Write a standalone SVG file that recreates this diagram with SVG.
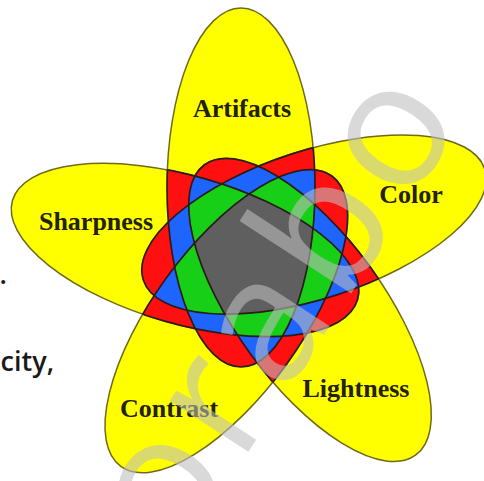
<svg xmlns="http://www.w3.org/2000/svg" xmlns:xlink="http://www.w3.org/1999/xlink" width="484" height="481" viewBox="0 0 484 481">
<style>
.petal{fill:#ffff00;stroke:#6f6a1c;stroke-width:1.5}
.r{fill:#ff1010}
.b{fill:#1e64ff}
.g{fill:#16cf16}
.k{fill:#5f5f5f}
.inner{fill:none;stroke:#2a1c18;stroke-width:1.7}
.lbl{font-family:"Liberation Serif","Times New Roman",serif;font-weight:bold;font-size:26px;fill:#222200;text-anchor:middle}
.side{font-family:"Open Sans","Noto Sans",sans-serif;font-weight:600;font-size:27px;fill:#1a1a1a;text-anchor:end}
.wm{font-family:"Open Sans","Noto Sans",sans-serif;font-size:175px;fill:#bebebe;opacity:0.58;letter-spacing:10px}
</style>
<defs>
<ellipse id="eA" rx="179.5" ry="74" transform="translate(241 187.5) rotate(-90)"/>
<ellipse id="eC" rx="179.5" ry="74" transform="translate(314 224.5) rotate(-18)"/>
<ellipse id="eL" rx="179.5" ry="74" transform="translate(310 310) rotate(54)"/>
<ellipse id="eN" rx="179.5" ry="74" transform="translate(226.3 321.2) rotate(126)"/>
<ellipse id="eS" rx="179.5" ry="74" transform="translate(185 250) rotate(196)"/>
<clipPath id="cA"><use href="#eA"/></clipPath>
<clipPath id="cC"><use href="#eC"/></clipPath>
<clipPath id="cL"><use href="#eL"/></clipPath>
<clipPath id="cN"><use href="#eN"/></clipPath>
<clipPath id="cS"><use href="#eS"/></clipPath>
<clipPath id="oA"><use href="#eC"/><use href="#eL"/><use href="#eN"/><use href="#eS"/></clipPath>
<clipPath id="oC"><use href="#eA"/><use href="#eL"/><use href="#eN"/><use href="#eS"/></clipPath>
<clipPath id="oL"><use href="#eA"/><use href="#eC"/><use href="#eN"/><use href="#eS"/></clipPath>
<clipPath id="oN"><use href="#eA"/><use href="#eC"/><use href="#eL"/><use href="#eS"/></clipPath>
<clipPath id="oS"><use href="#eA"/><use href="#eC"/><use href="#eL"/><use href="#eN"/></clipPath>
</defs>
<rect width="484" height="481" fill="#ffffff"/>
<g id="petals">
<g id="artifacts"><use href="#eA" class="petal"/></g>
<g id="color"><use href="#eC" class="petal"/></g>
<g id="lightness"><use href="#eL" class="petal"/></g>
<g id="contrast"><use href="#eN" class="petal"/></g>
<g id="sharpness"><use href="#eS" class="petal"/></g>
</g>
<g id="overlap2">
<g clip-path="url(#cA)"><use href="#eC" class="r"/><use href="#eL" class="r"/><use href="#eN" class="r"/><use href="#eS" class="r"/></g>
<g clip-path="url(#cC)"><use href="#eL" class="r"/><use href="#eN" class="r"/><use href="#eS" class="r"/></g>
<g clip-path="url(#cL)"><use href="#eN" class="r"/><use href="#eS" class="r"/></g>
<g clip-path="url(#cN)"><use href="#eS" class="r"/></g>
</g>
<g id="overlap3">
<g clip-path="url(#cA)"><g clip-path="url(#cC)"><use href="#eL" class="b"/><use href="#eN" class="b"/><use href="#eS" class="b"/></g></g>
<g clip-path="url(#cA)"><g clip-path="url(#cL)"><use href="#eN" class="b"/><use href="#eS" class="b"/></g></g>
<g clip-path="url(#cA)"><g clip-path="url(#cN)"><use href="#eS" class="b"/></g></g>
<g clip-path="url(#cC)"><g clip-path="url(#cL)"><use href="#eN" class="b"/><use href="#eS" class="b"/></g></g>
<g clip-path="url(#cC)"><g clip-path="url(#cN)"><use href="#eS" class="b"/></g></g>
<g clip-path="url(#cL)"><g clip-path="url(#cN)"><use href="#eS" class="b"/></g></g>
</g>
<g id="overlap4">
<g clip-path="url(#cA)"><g clip-path="url(#cC)"><g clip-path="url(#cL)"><use href="#eN" class="g"/><use href="#eS" class="g"/></g></g></g>
<g clip-path="url(#cA)"><g clip-path="url(#cC)"><g clip-path="url(#cN)"><use href="#eS" class="g"/></g></g></g>
<g clip-path="url(#cA)"><g clip-path="url(#cL)"><g clip-path="url(#cN)"><use href="#eS" class="g"/></g></g></g>
<g clip-path="url(#cC)"><g clip-path="url(#cL)"><g clip-path="url(#cN)"><use href="#eS" class="g"/></g></g></g>
</g>
<g id="overlap5">
<g clip-path="url(#cA)"><g clip-path="url(#cC)"><g clip-path="url(#cL)"><g clip-path="url(#cN)"><use href="#eS" class="k"/></g></g></g></g>
</g>
<g id="connectors">
<use href="#eA" class="inner" clip-path="url(#oA)"/>
<use href="#eC" class="inner" clip-path="url(#oC)"/>
<use href="#eL" class="inner" clip-path="url(#oL)"/>
<use href="#eN" class="inner" clip-path="url(#oN)"/>
<use href="#eS" class="inner" clip-path="url(#oS)"/>
</g>
<g id="labels">
<text class="lbl" x="242" y="117">Artifacts</text>
<text class="lbl" x="411" y="203">Color</text>
<text class="lbl" x="96" y="230">Sharpness</text>
<text class="lbl" x="356" y="397">Lightness</text>
<text class="lbl" x="169" y="417">Contrast</text>
</g>
<g id="side-text">
<text class="side" x="7" y="284">.</text>
<text class="side" x="54" y="371">city,</text>
</g>
<text class="wm" transform="translate(177.4 560.9) rotate(-57)">orabo</text>
</svg>
